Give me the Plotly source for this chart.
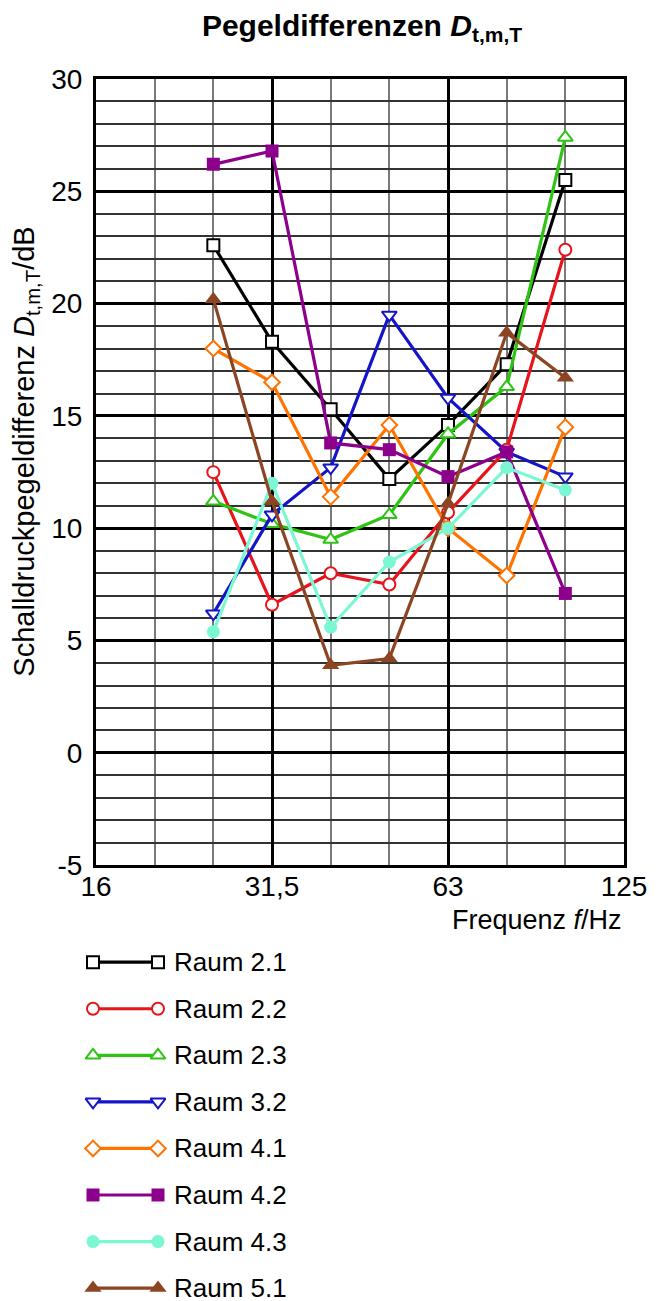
import plotly.graph_objects as go

# ---- data ----
bands = ["16", "20", "25", "31,5", "40", "50", "63", "80", "100", "125"]
freqs = ["25", "31,5", "40", "50", "63", "80", "100"]
tick_labels = ["16", "31,5", "63", "125"]
y_ticks = [-5, 0, 5, 10, 15, 20, 25, 30]
y_tick_labels = ["-5", "0", "5", "10", "15", "20", "25", "30"]

raum_2_1 = [22.6, 18.3, 15.3, 12.2, 14.6, 17.3, 25.5]
raum_2_2 = [12.5, 6.6, 8.0, 7.5, 10.7, 13.5, 22.4]
raum_2_3 = [11.2, 10.2, 9.5, 10.6, 14.2, 16.3, 27.4]
raum_3_2 = [6.2, 10.6, 12.7, 19.5, 15.8, 13.4, 12.3]
raum_4_1 = [18.0, 16.5, 11.4, 14.6, 10.0, 7.9, 14.5]
raum_4_2 = [26.2, 26.8, 13.8, 13.5, 12.3, 13.4, 7.1]
raum_4_3 = [5.4, 12.0, 5.6, 8.5, 10.0, 12.7, 11.7]
raum_5_1 = [20.2, 11.2, 3.9, 4.2, 11.1, 18.7, 16.7]

names = ["Raum 2.1", "Raum 2.2", "Raum 2.3", "Raum 3.2",
         "Raum 4.1", "Raum 4.2", "Raum 4.3", "Raum 5.1"]
series = [raum_2_1, raum_2_2, raum_2_3, raum_3_2,
          raum_4_1, raum_4_2, raum_4_3, raum_5_1]

# ---- styles ----
colors = ["#000000", "#e8141c", "#2ec414", "#1414c8",
          "#ff7300", "#8c008c", "#7cf7d4", "#8b4522"]
symbols = ["square", "circle", "triangle-up", "triangle-down",
           "diamond", "square", "circle", "triangle-up"]
filled = [False, False, False, False, False, True, True, True]
sizes = [12, 12, 13, 13, 12, 13, 13, 15]

# page: html body adds an 8px margin; the page is shown squeezed vertically
OFF = 8
VS = 1301 / 1317
W, H = 656 - 2 * OFF, 1301
B, L, R = 0, 52, 24
plot_w = W - L - R
AX_L, AX_R, AX_T, AX_B = 96, 624, 78, 865   # target screen pixels


def fy(t):
    """target screen y -> figure pixel y"""
    return t / VS - OFF


T = round(fy(AX_T))
plot_h = H - T - B


def py(t):
    return (H - B - fy(t)) / plot_h


def px(p):
    return (p - OFF - L) / plot_w


x_pos = [bands.index(f) for f in freqs]

fig = go.Figure()

for i, (nm, ys) in enumerate(zip(names, series)):
    mk = dict(symbol=symbols[i], size=sizes[i],
              color=colors[i] if filled[i] else "white",
              line=dict(color=colors[i], width=0 if filled[i] else 2))
    fig.add_trace(go.Scatter(x=x_pos, y=ys, mode="lines+markers", name=nm,
                             line=dict(color=colors[i], width=3.2),
                             marker=mk, showlegend=False,
                             xaxis="x", yaxis="y"))

# custom legend samples (line with markers at both ends)
for i, nm in enumerate(names):
    mk = dict(symbol=symbols[i], size=sizes[i],
              color=colors[i] if filled[i] else "white",
              line=dict(color=colors[i], width=0 if filled[i] else 2))
    fig.add_trace(go.Scatter(x=[0, 1], y=[i, i], mode="lines+markers",
                             line=dict(color=colors[i], width=3.2),
                             marker=mk, showlegend=False, cliponaxis=False,
                             xaxis="x2", yaxis="y2", hoverinfo="skip"))

# legend axis ranges mapping (screen pixels -> legend units)
leg_top = 940
row0, row_step = 962, 46.6
unit_x = 65.0
sample_left = 93
x2_min = -(sample_left - OFF - L) / unit_x
x2_max = x2_min + plot_w / unit_x
fig_row_step = row_step / VS
y2_min = -(fy(row0) - fy(leg_top)) / fig_row_step
y2_max = (H - B - fy(row0)) / fig_row_step
text_x = (172 - sample_left) / unit_x

FONT = "Liberation Sans, Arial, sans-serif"

annotations = []
for i, nm in enumerate(names):
    annotations.append(dict(x=text_x, y=i, xref="x2", yref="y2", text=nm,
                            showarrow=False, xanchor="left", yanchor="middle",
                            font=dict(size=26, color="black", family=FONT)))

annotations.append(dict(x=px(537), y=py(920), xref="paper", yref="paper",
                        text="Frequenz <i>f</i>/Hz", showarrow=False,
                        xanchor="center", yanchor="middle",
                        font=dict(size=27, color="black", family=FONT)))
annotations.append(dict(x=px(26), y=py(451), xref="paper", yref="paper",
                        text="Schalldruckpegeldifferenz <i>D</i><sub>t,m,T</sub>/dB",
                        textangle=-90, showarrow=False,
                        xanchor="center", yanchor="middle",
                        font=dict(size=29, color="black", family=FONT)))

fig.update_layout(
    width=W, height=H,
    margin=dict(l=L, r=R, t=T, b=B),
    paper_bgcolor="white", plot_bgcolor="white",
    title=dict(text="<b>Pegeldifferenzen <i>D</i><sub>t,m,T</sub></b>",
               x=px(362), xref="paper", xanchor="center",
               y=1 - fy(25) / H, yref="container", yanchor="middle",
               font=dict(size=30, color="black", family=FONT)),
    xaxis=dict(domain=[px(AX_L), px(AX_R)], anchor="y",
               range=[0, len(bands) - 1],
               tickmode="array", tickvals=[0, 3, 6, 9], ticktext=tick_labels,
               showgrid=True, gridcolor="black", gridwidth=3,
               minor=dict(dtick=1, tick0=0, showgrid=True,
                          gridcolor="#7a7a7a", gridwidth=1.5),
               showline=True, linecolor="black", linewidth=3, mirror=True,
               ticks="", ticklabelstandoff=-6, zeroline=False,
               tickfont=dict(size=28, color="black", family=FONT)),
    yaxis=dict(domain=[py(AX_B), 1], anchor="x", range=[-5, 30],
               tickmode="array", tickvals=y_ticks, ticktext=y_tick_labels,
               showgrid=True, gridcolor="black", gridwidth=3,
               minor=dict(dtick=1, tick0=0, showgrid=True,
                          gridcolor="#333333", gridwidth=1.5),
               showline=True, linecolor="black", linewidth=3, mirror=True,
               ticks="outside", ticklen=5, tickcolor="rgba(0,0,0,0)",
               zeroline=False,
               tickfont=dict(size=28, color="black", family=FONT)),
    xaxis2=dict(domain=[0, 1], anchor="y2", range=[x2_min, x2_max],
                visible=False, fixedrange=True),
    yaxis2=dict(domain=[0, py(leg_top)], anchor="x2", range=[y2_max, y2_min],
                visible=False, fixedrange=True),
    annotations=annotations,
    showlegend=False,
)

fig.write_html("out.html", config={"displayModeBar": False})
